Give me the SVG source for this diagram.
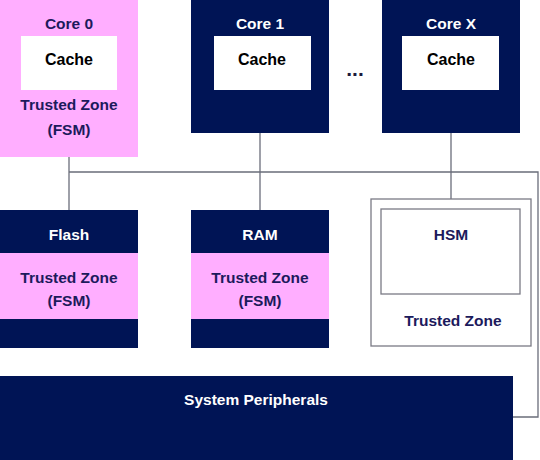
<svg xmlns="http://www.w3.org/2000/svg" width="540" height="460" viewBox="0 0 540 460">
<style>
.navy{fill:#001455}
.pink{fill:#FFAEFF}
.white{fill:#ffffff}
.box{fill:#ffffff;stroke:#7a7a85;stroke-width:1.3}
text{font-family:"Liberation Sans",Arial,sans-serif;font-weight:bold;font-size:15.5px;text-anchor:middle}
.tw{fill:#ffffff}
.tb{fill:#000000;font-size:16px}
.tn{fill:#1c1a5c}
.conn{fill:none;stroke:#6a6d7a;stroke-width:1.3}
</style>
<g id="connectors">
<path class="conn" d="M69,157 V210"/>
<path class="conn" d="M69,172 H538 V417 H513"/>
<path class="conn" d="M260,133 V210"/>
<path class="conn" d="M451,133 V199"/>
</g>
<g id="core0">
<rect class="pink" x="0" y="0" width="138" height="157"/>
<rect class="white" x="21" y="36" width="96" height="54"/>
<text class="tn" x="69" y="29">Core 0</text>
<text class="tb" x="69" y="65">Cache</text>
<text class="tn" x="69" y="110">Trusted Zone</text>
<text class="tn" x="69" y="135">(FSM)</text>
</g>
<g id="core1">
<rect class="navy" x="191" y="0" width="138" height="133"/>
<rect class="white" x="214" y="36" width="97" height="54"/>
<text class="tw" x="260" y="29">Core 1</text>
<text class="tb" x="262" y="65">Cache</text>
</g>
<g id="dots">
<text x="355" y="76" style="fill:#1c1a3c;font-size:21px">...</text>
</g>
<g id="coreX">
<rect class="navy" x="382" y="0" width="138" height="133"/>
<rect class="white" x="402" y="36" width="97" height="54"/>
<text class="tw" x="451" y="29">Core X</text>
<text class="tb" x="451" y="65">Cache</text>
</g>
<g id="flash">
<rect class="navy" x="0" y="210" width="138" height="138"/>
<rect class="pink" x="0" y="253" width="138" height="66"/>
<text class="tw" x="69" y="240">Flash</text>
<text class="tn" x="69" y="283">Trusted Zone</text>
<text class="tn" x="69" y="306">(FSM)</text>
</g>
<g id="ram">
<rect class="navy" x="191" y="210" width="138" height="138"/>
<rect class="pink" x="191" y="253" width="138" height="66"/>
<text class="tw" x="260" y="240">RAM</text>
<text class="tn" x="260" y="283">Trusted Zone</text>
<text class="tn" x="260" y="306">(FSM)</text>
</g>
<g id="hsm">
<rect class="box" x="371" y="199" width="160" height="147"/>
<rect class="box" x="381" y="209" width="139" height="85"/>
<text class="tn" x="451" y="240">HSM</text>
<text class="tn" x="453" y="326">Trusted Zone</text>
</g>
<g id="peripherals">
<rect class="navy" x="0" y="376" width="513" height="84"/>
<text class="tw" x="256" y="405">System Peripherals</text>
</g>
</svg>
